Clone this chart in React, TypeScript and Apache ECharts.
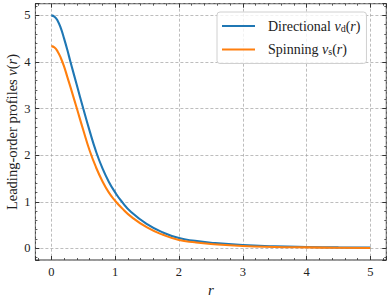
import React, { useEffect, useRef } from 'react';
import * as echarts from 'echarts';

const rValues = [0, 0.05, 0.1, 0.15, 0.2, 0.25, 0.3, 0.4, 0.5, 0.6, 0.7, 0.8, 0.9, 1.0, 1.1, 1.25, 1.5, 1.75, 2.0, 2.25, 2.5, 3.0, 3.5, 4.0, 4.5, 5.0];
const directional = [5.0, 4.97, 4.88, 4.72, 4.5, 4.26, 4.0, 3.5, 3.0, 2.52, 2.08, 1.72, 1.43, 1.2, 1.01, 0.78, 0.52, 0.34, 0.22, 0.16, 0.12, 0.07, 0.045, 0.03, 0.02, 0.015];
const spinning = [4.34, 4.31, 4.22, 4.08, 3.9, 3.68, 3.46, 3.0, 2.54, 2.1, 1.74, 1.44, 1.2, 1.02, 0.87, 0.68, 0.45, 0.29, 0.18, 0.13, 0.095, 0.05, 0.03, 0.02, 0.012, 0.008];
const seriesNames = ['Directional', 'Spinning'];
const seriesSubs = ['d', 's'];
const axisMin = -0.25;
const axisMax = 5.25;
const xTitle = 'r';
const yTitle = 'Leading-order profiles ';

const FONT = 'Liberation Serif';

export default function App() {
  const ref = useRef<HTMLDivElement>(null);
  useEffect(() => {
    document.body.style.margin = '0';
    if (!ref.current) return;
    const chart = echarts.init(ref.current, undefined, { renderer: 'svg' });
    const intLabel = (v: number) => (Math.abs(v - Math.round(v)) < 1e-9 ? String(Math.round(v)) : '');
    const labelStyle = { fontFamily: FONT, fontSize: 12.5, color: '#222' };
    const mainX = (pos: string, labels: boolean) => ({
      type: 'value', position: pos, min: axisMin, max: axisMax, splitNumber: 5,
      axisLine: { show: false, onZero: false },
      axisTick: { show: true, inside: true, length: 4, lineStyle: { color: '#333', width: 1 } },
      axisLabel: { show: labels, formatter: intLabel, margin: 5, ...labelStyle },
      splitLine: { show: labels, lineStyle: { color: '#a0a0a0', width: 0.7, type: [3, 2] } },
    });
    const minorAx = (pos: string) => ({
      type: 'value', position: pos, min: axisMin, max: axisMax, splitNumber: 27,
      axisLine: { show: false, onZero: false },
      axisTick: { show: true, inside: true, length: 2, lineStyle: { color: '#333', width: 0.8 } },
      axisLabel: { show: false },
      splitLine: { show: false },
    });
    const legendText = (name: string) => {
      const i = seriesNames.indexOf(name);
      return `${name} {i|v}{s|${seriesSubs[i]}}({i|r})`;
    };
    chart.setOption({
      animation: false,
      grid: { left: 35.4, right: 3.7, top: 3.7, bottom: 41, show: true, borderColor: '#333', borderWidth: 1 },
      xAxis: [mainX('bottom', true), mainX('top', false), minorAx('bottom'), minorAx('top')],
      yAxis: [
        { ...mainX('left', true), axisLabel: { show: true, formatter: intLabel, margin: 5, ...labelStyle } },
        mainX('right', false), minorAx('left'), minorAx('right'),
      ],
      legend: {
        orient: 'vertical', left: 217, top: 12, icon: 'rect', itemWidth: 33, itemHeight: 2.2, itemGap: 9.5,
        padding: [7, 6, 7, 5],
        backgroundColor: 'rgba(255,255,255,0.8)', borderColor: '#d0d0d0', borderWidth: 1, borderRadius: 3,
        formatter: legendText,
        textStyle: {
          fontFamily: FONT, fontSize: 14, color: '#222', padding: [0, 0, 0, 8],
          rich: {
            i: { fontFamily: FONT, fontSize: 14, fontStyle: 'italic', color: '#222' },
            s: { fontFamily: FONT, fontSize: 10, fontStyle: 'normal', color: '#222', verticalAlign: 'bottom', lineHeight: 7 },
          },
        },
      },
      graphic: [
        {
          type: 'text', x: 12, y: 132, rotation: Math.PI / 2,
          style: {
            text: yTitle + '{i|v}({i|r})', fontFamily: FONT, fontSize: 14.5, fill: '#222',
            align: 'center', verticalAlign: 'middle',
            rich: { i: { fontFamily: FONT, fontSize: 14.5, fontStyle: 'italic', fill: '#222' } },
          },
        },
        {
          type: 'text', x: 210.8, y: 290,
          style: { text: xTitle, fontFamily: FONT, fontSize: 15, fontStyle: 'italic', fill: '#222', align: 'center', verticalAlign: 'middle' },
        },
      ],
      series: [
        {
          name: seriesNames[0], type: 'line', symbol: 'none', smooth: 0.5, xAxisIndex: 0, yAxisIndex: 0,
          data: rValues.map((r, k) => [r, directional[k]]),
          lineStyle: { color: '#1f77b4', width: 2.1 }, itemStyle: { color: '#1f77b4' },
        },
        {
          name: seriesNames[1], type: 'line', symbol: 'none', smooth: 0.5, xAxisIndex: 0, yAxisIndex: 0,
          data: rValues.map((r, k) => [r, spinning[k]]),
          lineStyle: { color: '#ff7f0e', width: 2.1 }, itemStyle: { color: '#ff7f0e' },
        },
      ],
    });
    return () => chart.dispose();
  }, []);
  return <div ref={ref} style={{ width: 390, height: 301 }} />;
}
